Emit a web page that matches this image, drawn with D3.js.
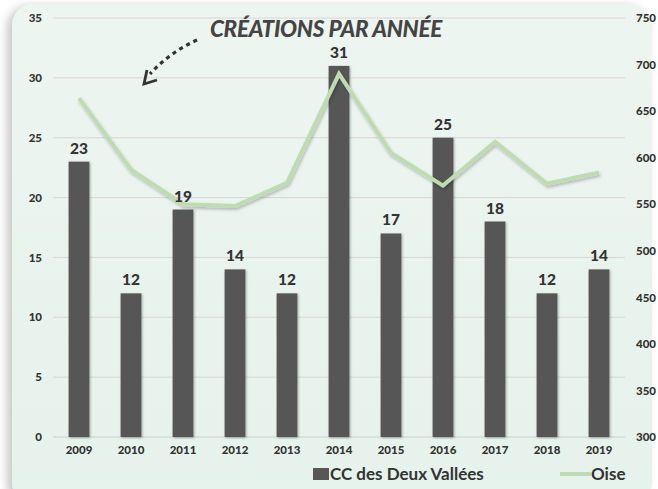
<!DOCTYPE html>
<html><head><meta charset="utf-8">
<script src="https://cdn.jsdelivr.net/npm/d3@7/dist/d3.min.js"></script>
<style>
html,body{margin:0;padding:0;background:#fff;}
svg{display:block;font-family:Lato,"Open Sans",sans-serif;}
</style></head>
<body>
<svg id="chart" width="658" height="489"></svg>
<script>
const years = ["2009","2010","2011","2012","2013","2014","2015","2016","2017","2018","2019"];
const ccValues = [23,12,19,14,12,31,17,25,18,12,14];
const oiseValues = [664,587,550,548,573,690,605,570,617,572,584];
const leftTicks = [0,5,10,15,20,25,30,35];
const rightTicks = [300,350,400,450,500,550,600,650,700,750];
const title = "CRÉATIONS PAR ANNÉE";
const seriesNames = ["CC des Deux Vallées","Oise"];

const svg = d3.select("#chart");
const m = {left:53, right:625, top:18, bottom:437};

const defs = svg.append("defs");
const g1 = defs.append("linearGradient").attr("id","bg").attr("x1",0).attr("y1",0).attr("x2",0).attr("y2",1);
g1.append("stop").attr("offset","0%").attr("stop-color","#edf5f1");
g1.append("stop").attr("offset","100%").attr("stop-color","#e6f2ec");
const f = defs.append("filter").attr("id","panelShadow").attr("x","-10%").attr("y","-10%").attr("width","120%").attr("height","120%");
f.append("feDropShadow").attr("dx",-5).attr("dy",2).attr("stdDeviation",5).attr("flood-color","#000").attr("flood-opacity",0.22);
const fb = defs.append("filter").attr("id","barShadow").attr("x","-30%").attr("y","-10%").attr("width","160%").attr("height","120%");
fb.append("feDropShadow").attr("dx",1).attr("dy",1).attr("stdDeviation",1.2).attr("flood-color","#000").attr("flood-opacity",0.3);
const fl = defs.append("filter").attr("id","lineShadow").attr("x","-10%").attr("y","-10%").attr("width","120%").attr("height","120%");
fl.append("feDropShadow").attr("dx",1).attr("dy",2).attr("stdDeviation",1.5).attr("flood-color","#000").attr("flood-opacity",0.25);

svg.append("rect").attr("x",12).attr("y",4).attr("width",640).attr("height",500).attr("rx",22)
  .attr("fill","url(#bg)").attr("filter","url(#panelShadow)");

const x = d3.scaleBand().domain(years).range([m.left, m.right]).paddingInner(0.6).paddingOuter(0.3);
const yL = d3.scaleLinear().domain([0,35]).range([m.bottom, m.top]);
const yR = d3.scaleLinear().domain([300,750]).range([m.bottom, m.top]);

svg.append("g").selectAll("line").data(leftTicks).join("line")
  .attr("x1",m.left).attr("x2",m.right)
  .attr("y1",d=>yL(d)).attr("y2",d=>yL(d))
  .attr("stroke",d=>d===0?"#c9cfcc":"#d8d6d6").attr("stroke-width",1);

function styleAxis(g){
  g.select(".domain").remove();
  g.selectAll("text").attr("font-size",11.5).attr("font-weight",900).attr("fill","#333").attr("font-family","Lato");
}
const gL = svg.append("g").attr("transform","translate(42,0)").call(d3.axisLeft(yL).tickValues(leftTicks).tickSize(0).tickPadding(0));
styleAxis(gL);
const gR = svg.append("g").attr("transform","translate(636,0)").call(d3.axisRight(yR).tickValues(rightTicks).tickSize(0).tickPadding(0));
styleAxis(gR);
const gB = svg.append("g").attr("transform",`translate(0,${m.bottom+9})`).call(d3.axisBottom(x).tickSize(0).tickPadding(0));
styleAxis(gB);

svg.append("g").attr("filter","url(#barShadow)").selectAll("rect").data(ccValues).join("rect")
  .attr("x",(d,i)=>x(years[i])).attr("width",x.bandwidth())
  .attr("y",d=>yL(d)).attr("height",d=>m.bottom-yL(d))
  .attr("fill","#575757");

const line = d3.line().x((d,i)=>x(years[i])+x.bandwidth()/2).y(d=>yR(d));
svg.append("path").datum(oiseValues).attr("d",line)
  .attr("fill","none").attr("stroke","#bfdcb0").attr("stroke-width",4)
  .attr("stroke-linejoin","miter").attr("filter","url(#lineShadow)");

svg.append("g").selectAll("text").data(ccValues).join("text")
  .attr("x",(d,i)=>x(years[i])+x.bandwidth()/2).attr("y",d=>yL(d)-8)
  .attr("text-anchor","middle").attr("font-size",15.5).attr("font-weight",900).attr("fill","#333")
  .text(d=>d);

svg.append("text").attr("x",326).attr("y",37).attr("text-anchor","middle")
  .attr("font-size",22.5).attr("font-weight",900).attr("font-style","italic").attr("fill","#444")
  .attr("letter-spacing",-0.3).text(title);

svg.append("path").attr("d","M197,40 Q170,52 150,74")
  .attr("fill","none").attr("stroke","#333").attr("stroke-width",3.2).attr("stroke-dasharray","4,4");
svg.append("path").attr("d","M147,70 L144,84 L157,80")
  .attr("fill","none").attr("stroke","#333").attr("stroke-width",2.8);

const lg = svg.append("g");
lg.append("rect").attr("x",313).attr("y",468).attr("width",16).attr("height",12).attr("fill","#575757");
lg.append("text").attr("x",330).attr("y",480).attr("font-size",17).attr("font-weight",700).attr("fill","#333").text(seriesNames[0]);
lg.append("line").attr("x1",560).attr("x2",591).attr("y1",474).attr("y2",474).attr("stroke","#bfdcb0").attr("stroke-width",4);
lg.append("text").attr("x",591).attr("y",480).attr("font-size",17).attr("font-weight",700).attr("fill","#333").text(seriesNames[1]);
</script>
</body></html>
